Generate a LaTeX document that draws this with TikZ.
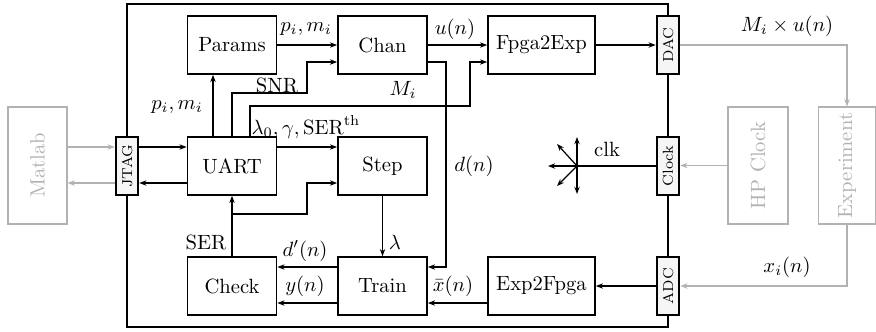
\documentclass[tikz,border=0pt]{standalone}
\usepackage{graphicx}
\usetikzlibrary{arrows.meta}
\begin{document}
\begin{tikzpicture}[x=0.485pt,y=-0.485pt,
  box/.style={draw, thick, minimum width=43.2pt, minimum height=28.1pt, inner sep=0pt, fill=white},
  wbox/.style={box, minimum width=51.9pt},
  io/.style={draw, very thick, fill=gray!8, minimum width=10.7pt, minimum height=28.3pt, inner sep=0pt, font=\scriptsize},
  ext/.style={draw=black!30, semithick, text=black!30, minimum height=56.7pt, inner sep=0pt},
  arr/.style={-{Stealth[length=3.5pt,width=2.6pt]}, semithick},
  garr/.style={-{Stealth[length=3.5pt,width=2.6pt]}, semithick, draw=black!30},
  lab/.style={inner sep=1pt}]
\useasboundingbox (0,0) rectangle (876,331);
\draw[thick] (127,4) rectangle (668,327);
% external
\node[ext, minimum width=28.6pt] (Matlab) at (37.5,165.5) {\rotatebox{90}{Matlab}};
\node[ext, minimum width=29.1pt] (HPClock) at (758,165.5) {\rotatebox{90}{HP Clock}};
\node[ext, minimum width=27.6pt] (Experiment) at (847,165.5) {\rotatebox{90}{Experiment}};
% io
\node[io] (JTAG) at (127,166) {\rotatebox{90}{JTAG}};
\node[io] (DAC) at (668,45) {\rotatebox{90}{DAC}};
\node[io] (Clock) at (668,166) {\rotatebox{90}{Clock}};
\node[io] (ADC) at (668,286) {\rotatebox{90}{ADC}};
% boxes
\node[box] (Params) at (232,45) {Params};
\node[box] (UART) at (232,166) {UART};
\node[box] (Check) at (232,286) {Check};
\node[box] (Chan) at (382.5,45) {Chan};
\node[box] (Step) at (382.5,166) {Step};
\node[box] (Train) at (382.5,286) {Train};
\node[wbox] (Fpga2Exp) at (541.5,45) {Fpga2Exp};
\node[wbox] (Exp2Fpga) at (541.5,286) {Exp2Fpga};
% external connectors
\draw[garr] (Matlab.east |- 0,147) -- (JTAG.west |- 0,147);
\draw[garr] (JTAG.west |- 0,183) -- (Matlab.east |- 0,183);
\draw[garr] (DAC.east) -| (Experiment.north);
\draw[garr] (Experiment.south) |- (ADC.east);
\draw[garr] (HPClock.west) -- (Clock.east |- HPClock.west);
\node[lab] (lMu) at (787,26) {$M_i\times u(n)$};
\node[lab] (lxi) at (787,267) {$x_i(n)$};
% internal connectors
\draw[arr] (JTAG.east |- 0,147) -- (UART.west |- 0,147);
\draw[arr] (UART.west |- 0,183) -- (JTAG.east |- 0,183);
\draw[arr] (UART.north -| 213,0) -- (Params.south -| 213,0);
\node[lab] (lpm1) at (177,107) {$p_i,m_i$};
\draw[arr] (UART.north) |- (307,93) |- (Chan.west |- 0,62);
\node[lab] (lSNR) at (277,85) {SNR};
\draw[arr] (UART.north -| 250,0) |- (470,106) |- (Fpga2Exp.west |- 0,62);
\node[lab] (lMi) at (403,90) {$M_i$};
\draw[arr] (UART.east |- 0,147) -- (Step.west |- 0,147);
\node[lab] (llam0) at (306,127) {$\lambda_0,\gamma,\mathrm{SER}^{\mathrm{th}}$};
\draw[arr] (Params.east) -- (Chan.west);
\node[lab] (lpm2) at (306,29) {$p_i,m_i$};
\draw[arr] (Chan.east) -- (Fpga2Exp.west);
\node[lab] (lun) at (455,29) {$u(n)$};
\draw[arr] (Fpga2Exp.east) -- (DAC.west);
\draw[arr] (Chan.east |- 0,62) -| (446,267) -- (Train.east |- 0,267);
\node[lab] (ldn) at (474,166) {$d(n)$};
\draw[arr] (Step.south) -- (Train.north);
\node[lab] (llam) at (395,242) {$\lambda$};
\draw[arr] (Check.north) -- (UART.south);
\draw[arr] (Check.north |- 0,214) -| (307,183) -- (Step.west |- 0,183);
\node[lab] (lSER) at (206,242) {SER};
\draw[arr] (Train.west |- 0,267) -- (Check.east |- 0,267);
\node[lab] (ldp) at (305,251) {$d'(n)$};
\draw[arr] (Train.west |- 0,303) -- (Check.east |- 0,303);
\node[lab] (lyn) at (305,286) {$y(n)$};
\draw[arr] (Exp2Fpga.west |- 0,303) -- (Train.east |- 0,303);
\node[lab] (lxb) at (453,286) {$\bar{x}(n)$};
\draw[arr] (ADC.west) -- (Exp2Fpga.east);
% clock distribution
\coordinate (clk) at (577,166);
\draw[semithick] (Clock.west) -- (clk);
\draw[arr] (clk) -- (577,137);
\draw[arr] (clk) -- (577,194);
\draw[arr] (clk) -- (548,166);
\draw[arr] (clk) -- (557,144);
\draw[arr] (clk) -- (557,186);
\node[lab] (lclk) at (607,149) {clk};
\end{tikzpicture}
\end{document}
